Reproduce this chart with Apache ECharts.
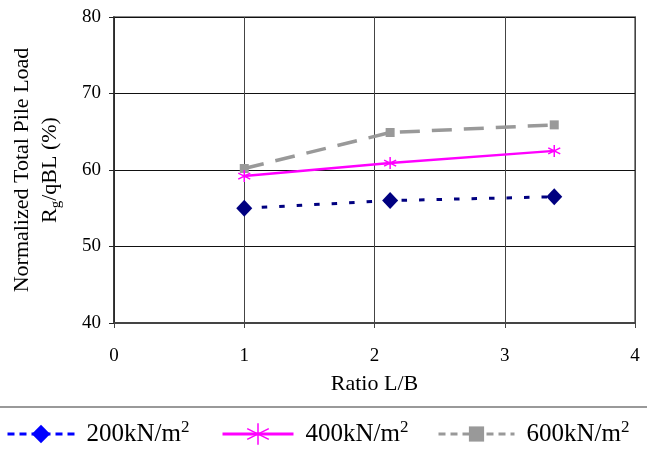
<!DOCTYPE html>
<html><head><meta charset="utf-8">
<script src="https://cdn.jsdelivr.net/npm/echarts@6/dist/echarts.min.js"></script>
<style>html,body{margin:0;padding:0;background:#fff}#c{width:647px;height:466px}</style>
</head><body><div id="c"></div>
<script>
var ratioLB = [1, 2.12, 3.38];
var load200 = [55.0, 56.0, 56.5];
var load400 = [59.2, 60.9, 62.5];
var load600 = [60.2, 64.9, 65.9];
var seriesNames = ['200kN/m', '400kN/m', '600kN/m'];
var xTicks = [0, 1, 2, 3, 4];
var yTicks = [40, 50, 60, 70, 80];

function pts(xs, ys){ return xs.map(function(x,i){ return [x, ys[i]]; }); }
var F = 'Liberation Serif, Times New Roman, serif';
var asterisk = 'path://M5,0L5,10M0.67,2.5L9.33,7.5M0.67,7.5L9.33,2.5';

var chart = echarts.init(document.getElementById('c'), null, {renderer:'canvas'});
var legRich = {
  m: {fontFamily:F, fontSize:25, color:'#000', lineHeight:30, padding:[0,0,0,7]},
  s: {fontFamily:F, fontSize:17, color:'#000', lineHeight:20, verticalAlign:'top'}
};
function leg(name, left, w, h, icon, lineStyle, itemStyle){
  return {
    data:[name], left:left, top:419, padding:0, itemWidth:w, itemHeight:h,
    selectedMode:false, icon: undefined,
    lineStyle: lineStyle, itemStyle: itemStyle,
    formatter: function(n){ return '{m|' + n + '}{s|2}'; },
    textStyle: {rich: legRich}
  };
}
chart.setOption({
  animation:false,
  grid:{left:110, right:12, top:17, bottom:143, show:true, borderColor:'#8a8a8a', borderWidth:2, backgroundColor:'transparent'},
  xAxis:{
    type:'value', min:xTicks[0], max:xTicks[xTicks.length-1], interval:1,
    name:'Ratio L/B', nameLocation:'middle', nameGap:50,
    nameTextStyle:{fontFamily:F, fontSize:22, color:'#000'},
    axisLine:{show:true, onZero:false, lineStyle:{color:'#444', width:2}},
    axisTick:{show:true, length:5, lineStyle:{color:'#444'}},
    axisLabel:{fontFamily:F, fontSize:19, color:'#000', margin:24},
    splitLine:{show:true, lineStyle:{color:'#444', width:1}}
  },
  yAxis:{
    type:'value', min:yTicks[0], max:yTicks[yTicks.length-1], interval:10,
    name:'Normalized Total Pile Load\n{r|R}{sub|g}{r|/qBL (%)}', nameLocation:'middle', nameGap:50, nameRotate:90,
    nameTextStyle:{fontFamily:F, fontSize:22, color:'#000', lineHeight:28, align:'center',
      rich:{
        r:{fontFamily:F, fontSize:22, color:'#000', lineHeight:28},
        sub:{fontFamily:F, fontSize:15, color:'#000', lineHeight:18, verticalAlign:'bottom'}
      }},
    axisLine:{show:true, lineStyle:{color:'#222', width:1.5}},
    axisTick:{show:true, length:5, lineStyle:{color:'#222'}},
    axisLabel:{fontFamily:F, fontSize:19, color:'#000', margin:13},
    splitLine:{show:true, lineStyle:{color:'#111', width:1}}
  },
  legend:[
    leg(seriesNames[0], 6, 67, 23, null, {type:[7,5], width:3, color:'#0000FF'}, {color:'#0000FF'}),
    leg(seriesNames[1], 221, 71, 27, null, {type:'solid', width:3, color:'#FF00FF'}, {color:'#FF00FF', borderColor:'#FF00FF', borderWidth:1.5}),
    leg(seriesNames[2], 437, 76, 19, null, {type:[7,5], width:3, color:'#999999'}, {color:'#999999'})
  ],
  graphic:[{type:'line', shape:{x1:0, y1:407, x2:647, y2:407}, style:{stroke:'#777', lineWidth:1.5}, silent:true}],
  series:[
    {name:seriesNames[0], type:'line', data:pts(ratioLB, load200), symbol:'diamond', symbolSize:[16,17],
      lineStyle:{color:'#000080', width:3, type:[5.5,12], cap:'butt'}, itemStyle:{color:'#000080'}, z:3},
    {name:seriesNames[1], type:'line', data:pts(ratioLB, load400), symbol:asterisk, symbolSize:[12,12],
      lineStyle:{color:'#FF00FF', width:2.5}, itemStyle:{color:'#FF00FF', borderColor:'#FF00FF', borderWidth:1.5}, z:4},
    {name:seriesNames[2], type:'line', data:pts(ratioLB, load600), symbol:'rect', symbolSize:9,
      lineStyle:{color:'#999999', width:3.5, type:[20,12], cap:'butt'}, itemStyle:{color:'#999999'}, z:2}
  ]
});
</script></body></html>
